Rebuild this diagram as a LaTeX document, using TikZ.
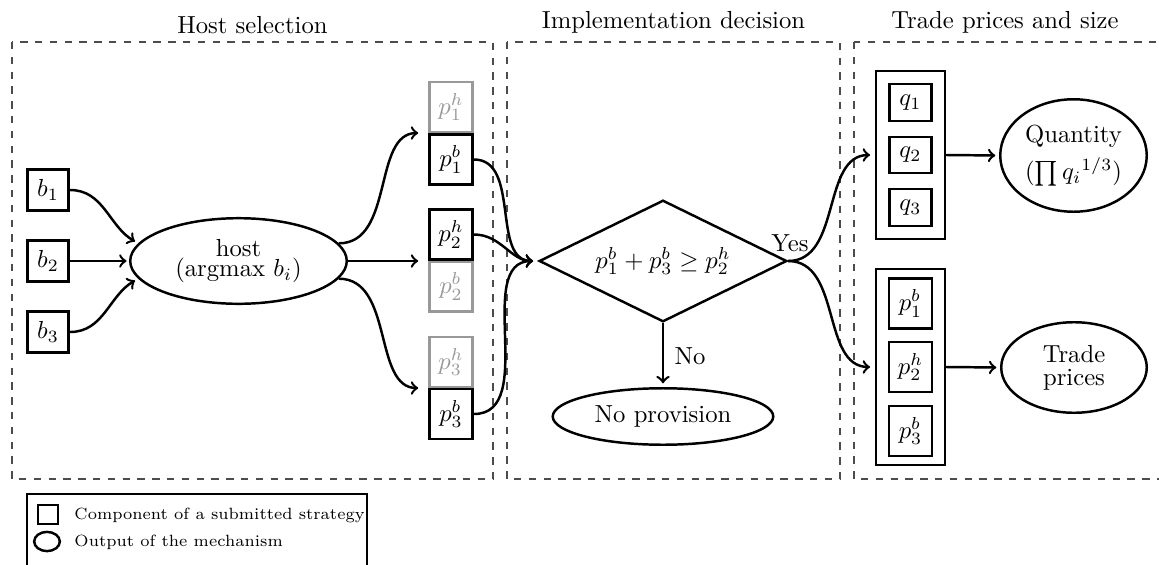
\documentclass[tikz,border=0pt]{standalone}
\usetikzlibrary{shapes.geometric}
\begin{document}
\begin{tikzpicture}[x=0.4054pt,y=0.4054pt,
  comp/.style={draw,rectangle,line width=1pt,inner sep=0pt},
  ghost/.style={draw=black!40,text=black!40,rectangle,line width=1pt,inner sep=0pt},
  pbox/.style={minimum width=17.6pt,minimum height=20.1pt},
  outp/.style={draw,ellipse,line width=1pt,inner sep=0pt,align=center},
  flow/.style={->,line width=1pt},
  stage/.style={draw=black!70,dashed,line width=0.5pt},
  stagetitle/.style={anchor=south},
  legendtext/.style={anchor=west,inner sep=0pt,font=\fontsize{6.6}{8}\selectfont},
]
\useasboundingbox (0,0) rectangle (1159,-564);

% stage frames and their titles
\draw[stage] (12,-42) rectangle (493,-479);
\draw[stage] (507,-42) rectangle (840,-479);
\draw[stage] (854,-42) rectangle (1175,-479);
\node[stagetitle] (t1) at (252.5,-42) {Host selection};
\node[stagetitle] (t2) at (673.5,-42) {Implementation decision};
\node[stagetitle] (t3) at (1005,-42) {Trade prices and size};

% bids and host choice
\node[comp,minimum size=16.8pt] (b1) at (48,-190) {$b_1$};
\node[comp,minimum size=16.8pt] (b2) at (48,-261) {$b_2$};
\node[comp,minimum size=16.8pt] (b3) at (48,-332) {$b_3$};
\node[outp,minimum width=87.8pt,minimum height=34.7pt,font=\fontsize{10}{8.2}\selectfont] (host) at (238.5,-261) {host\\(argmax $b_i$)};

% price components
\node[ghost,pbox] (p1h) at (451,-107) {$p_1^h$};
\node[comp,pbox]  (p1b) at (451,-159.5) {$p_1^b$};
\node[ghost,pbox] (p2b) at (451,-286.5) {$p_2^b$};
\node[comp,pbox]  (p2h) at (451,-234.5) {$p_2^h$};
\node[ghost,pbox] (p3h) at (451,-362) {$p_3^h$};
\node[comp,pbox]  (p3b) at (451,-414) {$p_3^b$};

% implementation test
\node[draw,diamond,aspect=2,line width=1pt,inner sep=0pt,
      minimum width=100.4pt,minimum height=49.3pt] (dec) at (663,-261) {$p_1^b+p_3^b\geq p_2^h$};
\node[outp,minimum width=89.4pt,minimum height=22.9pt] (noprov) at (663,-416.5) {No provision};

% trade outputs
\node[comp,minimum width=27.8pt,minimum height=67.9pt] (qbox) at (910.5,-155) {};
\node[comp,minimum width=17.2pt,minimum height=14.8pt] (q1) at (910.5,-102.5) {$q_1$};
\node[comp,minimum width=17.2pt,minimum height=14.8pt] (q2) at (910.5,-155) {$q_2$};
\node[comp,minimum width=17.2pt,minimum height=14.8pt] (q3) at (910.5,-207.5) {$q_3$};
\node[comp,minimum width=27.8pt,minimum height=79.3pt] (pbx) at (910.5,-367) {};
\node[comp,pbox] (r1) at (910.5,-303.5) {$p_1^b$};
\node[comp,pbox] (r2) at (910.5,-367) {$p_2^h$};
\node[comp,pbox] (r3) at (910.5,-431) {$p_3^b$};
\node[outp,minimum width=59.4pt,minimum height=45.6pt] (quant) at (1073.5,-155.5) {Quantity\\[3pt]$(\prod q_i{}^{1/3})$};
\node[outp,minimum width=59pt,minimum height=36.7pt,font=\fontsize{10}{9.4}\selectfont] (trade) at (1074,-367.5) {Trade\\prices};

% connectors
\draw[flow,shorten >=1.5pt] (b1.east) to[out=0,in=150] (host.170);
\draw[flow,shorten >=1pt] (b2.east) -- (host.west);
\draw[flow,shorten >=1.5pt] (b3.east) to[out=0,in=210] (host.190);

\draw[flow,shorten >=4pt] (host.10) to[out=0,in=180] (p1h.south west);
\draw[flow,shorten >=4pt] (host.east) -- (host.east -| p2h.west);
\draw[flow,shorten >=4pt] (host.-10) to[out=0,in=180] (p3h.south west);

\draw[flow,shorten >=2pt] (p1b.east) to[out=0,in=180] (dec.west);
\draw[flow,shorten >=2pt] (p2h.east) to[out=0,in=180] (dec.west);
\draw[flow,shorten >=2pt] (p3b.east) to[out=0,in=180] (dec.west);

\draw[flow,shorten >=2pt] (dec.east) to[out=0,in=180] (qbox.west);
\draw[flow,shorten >=2pt] (dec.east) to[out=0,in=180] (pbx.west);
\node (yes) at (790,-243) {Yes};

\draw[flow,shorten >=1.5pt] (dec.south) -- (noprov.north);
\node (no) at (690,-356) {No};

\draw[flow,shorten >=1.5pt] (qbox.east) -- (quant.west);
\draw[flow,shorten >=1.5pt] (pbx.east) -- (trade.west);

% legend
\draw[line width=0.5pt] (27,-620) -- (27,-494) -- (367,-494) -- (367,-620);
\node[draw,line width=1pt,inner sep=0pt,minimum width=8pt,minimum height=7.8pt] (lsq) at (48,-514.5) {};
\node[draw,ellipse,line width=1pt,inner sep=0pt,minimum width=10.4pt,minimum height=7.8pt] (lell) at (47,-541.5) {};
\node[legendtext] (ltxt1) at (74,-515) {Component of a submitted strategy};
\node[legendtext] (ltxt2) at (74,-542) {Output of the mechanism};
\end{tikzpicture}
\end{document}
